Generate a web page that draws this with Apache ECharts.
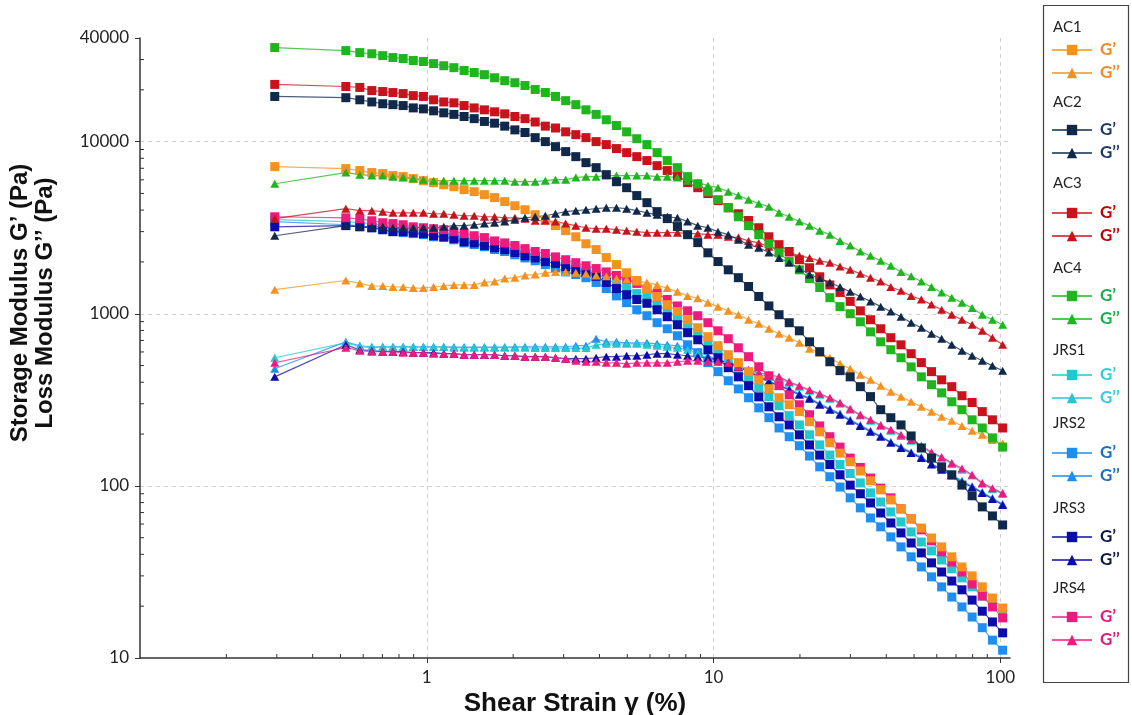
<!DOCTYPE html>
<html>
<head>
<meta charset="utf-8">
<title>Amplitude sweep</title>
<script src="https://cdn.jsdelivr.net/npm/echarts@6/dist/echarts.min.js"></script>
<style>
  html, body { margin: 0; padding: 0; background: #fff; }
  #chart { width: 1132px; height: 715px; }
</style>
</head>
<body>
<div id="chart"></div>
<script>
// shear strain (%) - same for every sample
const strain = [0.295, 0.522, 0.584, 0.643, 0.702, 0.762, 0.827, 0.897, 0.973, 1.056,
  1.146, 1.243, 1.349, 1.463, 1.588, 1.723, 1.869, 2.028, 2.200, 2.387,
  2.590, 2.810, 3.049, 3.308, 3.589, 3.894, 4.225, 4.584, 4.974, 5.397,
  5.855, 6.353, 6.893, 7.479, 8.115, 8.805, 9.552, 10.36, 11.25, 12.20,
  13.24, 14.37, 15.59, 16.91, 18.35, 19.91, 21.60, 23.44, 25.43, 27.59,
  29.94, 32.48, 35.24, 38.24, 41.49, 45.02, 48.84, 53.00, 57.50, 62.38,
  67.68, 73.44, 79.68, 86.45, 93.80, 101.8]

// G' (storage) and G'' (loss), Pa
const ac1Gp = [7160, 6970, 6790, 6610, 6520, 6350, 6260, 6100, 5930, 5780,
  5620, 5470, 5260, 5120, 4920, 4730, 4480, 4240, 4020, 3760,
  3520, 3250, 3040, 2800, 2550, 2360, 2120, 1930, 1730, 1560,
  1390, 1260, 1130, 1030, 923, 829, 736, 652, 578, 520,
  461, 413, 367, 325, 296, 270, 236, 206, 178, 155,
  138, 122, 107, 94.8, 82.9, 73.5, 64.3, 56.9, 49.8, 44.2,
  38.7, 33.8, 30.0, 25.9, 22.3, 19.5]
const ac1Gpp = [1380, 1560, 1500, 1450, 1450, 1430, 1430, 1410, 1410, 1430,
  1450, 1470, 1470, 1470, 1520, 1540, 1600, 1620, 1670, 1690,
  1730, 1750, 1750, 1730, 1710, 1670, 1650, 1600, 1580, 1540,
  1520, 1470, 1410, 1340, 1270, 1230, 1160, 1100, 1040, 987,
  923, 875, 818, 765, 726, 679, 627, 594, 555, 512,
  479, 442, 413, 382, 352, 330, 308, 288, 270, 252,
  239, 223, 209, 198, 185, 176]

const ac2Gp = [18300, 18000, 17500, 17000, 16600, 16400, 16200, 15700, 15500, 15100,
  14700, 14400, 14000, 13600, 13100, 12800, 12300, 11700, 11300, 10550,
  10000, 9350, 8750, 8180, 7550, 7060, 6430, 5850, 5400, 4860,
  4420, 3920, 3570, 3210, 2880, 2590, 2260, 2010, 1800, 1620,
  1440, 1260, 1110, 987, 887, 796, 687, 602, 526, 467,
  430, 377, 330, 277, 249, 226, 195, 166, 145, 129,
  116, 101, 87.6, 75.5, 66.9, 59.3]
const ac2Gpp = [2840, 3250, 3200, 3200, 3200, 3160, 3160, 3160, 3160, 3160,
  3200, 3250, 3250, 3290, 3340, 3380, 3430, 3520, 3610, 3660,
  3710, 3810, 3920, 3970, 4020, 4080, 4130, 4130, 4080, 3970,
  3860, 3760, 3660, 3610, 3430, 3250, 3160, 3000, 2880, 2690,
  2520, 2420, 2270, 2110, 1980, 1830, 1690, 1600, 1520, 1430,
  1340, 1260, 1180, 1100, 1030, 961, 887, 829, 765, 716,
  660, 610, 570, 533, 498, 467]

const ac3Gp = [21500, 20900, 20650, 19800, 19540, 19280, 19020, 18500, 18300, 17500,
  17000, 16800, 16200, 15700, 15300, 14900, 14500, 14000, 13600, 13000,
  12300, 12000, 11400, 10980, 10550, 10000, 9610, 9110, 8630, 8180,
  7760, 7250, 6790, 6350, 5780, 5400, 4990, 4540, 4130, 3810,
  3480, 3160, 2800, 2520, 2300, 2060, 1850, 1640, 1470, 1330,
  1180, 1040, 923, 818, 726, 660, 586, 520, 461, 413,
  377, 334, 305, 270, 242, 217]
const ac3Gpp = [3570, 4080, 3970, 3970, 3920, 3860, 3860, 3860, 3860, 3810,
  3810, 3760, 3710, 3710, 3660, 3660, 3610, 3610, 3570, 3470,
  3470, 3430, 3340, 3250, 3160, 3120, 3120, 3080, 3040, 3000,
  2960, 2960, 2960, 2960, 2920, 2920, 2880, 2880, 2800, 2770,
  2650, 2580, 2450, 2360, 2270, 2170, 2110, 2030, 1980, 1880,
  1800, 1710, 1620, 1540, 1430, 1360, 1270, 1210, 1130, 1055,
  987, 923, 863, 796, 726, 660]

const ac4Gp = [35200, 33800, 32900, 32400, 31600, 30800, 30400, 29600, 29200, 28400,
  27600, 26900, 25900, 25200, 24500, 23500, 22600, 22000, 21200, 20100,
  19300, 18300, 17300, 16400, 15300, 14400, 13400, 12400, 11400, 10400,
  9610, 8630, 7760, 7060, 6260, 5690, 5120, 4600, 4130, 3660,
  3250, 2880, 2550, 2260, 2010, 1800, 1600, 1420, 1240, 1100,
  1000, 898, 785, 687, 618, 555, 491, 430, 387, 347,
  308, 277, 242, 217, 190, 168]
const ac4Gpp = [5690, 6610, 6430, 6350, 6350, 6260, 6180, 6100, 6010, 5930,
  5930, 5930, 5930, 5930, 5930, 5930, 5930, 5850, 5850, 5850,
  5930, 6010, 6010, 6180, 6260, 6260, 6350, 6350, 6350, 6350,
  6350, 6260, 6260, 6180, 5930, 5780, 5550, 5400, 5120, 4860,
  4600, 4360, 4190, 3860, 3660, 3430, 3250, 3040, 2880, 2650,
  2490, 2300, 2170, 2030, 1900, 1750, 1650, 1540, 1430, 1330,
  1240, 1160, 1080, 987, 923, 863]

const jrs1Gp = [3520, 3430, 3380, 3340, 3250, 3200, 3160, 3080, 3040, 3000,
  2920, 2840, 2770, 2690, 2620, 2550, 2450, 2360, 2270, 2170,
  2090, 2010, 1930, 1850, 1780, 1690, 1600, 1490, 1400, 1310,
  1230, 1130, 1040, 948, 863, 776, 697, 618, 548, 479,
  419, 372, 330, 292, 256, 226, 198, 173, 151, 133,
  118, 104, 91.0, 80.6, 70.6, 61.7, 54.0, 47.2, 41.9, 37.1,
  33.0, 29.2, 25.9, 22.9, 20.3, 18.2]
const jrs1Gpp = [555, 678, 643, 635, 640, 640, 640, 640, 640, 640,
  640, 635, 635, 635, 635, 635, 635, 635, 635, 632,
  632, 632, 632, 632, 632, 660, 669, 669, 669, 669,
  660, 652, 643, 635, 618, 586, 555, 526, 505, 492,
  466, 448, 430, 419, 397, 377, 357, 338, 321, 300,
  277, 256, 239, 223, 209, 195, 183, 168, 155, 145,
  134, 124, 115, 103, 95.7, 89.6]

const jrs2Gp = [3430, 3290, 3250, 3160, 3080, 3000, 2960, 2920, 2880, 2800,
  2770, 2690, 2580, 2520, 2450, 2360, 2300, 2200, 2110, 2030,
  1930, 1850, 1750, 1690, 1620, 1520, 1400, 1270, 1160, 1055,
  974, 887, 818, 745, 660, 594, 520, 461, 408, 366,
  325, 284, 249, 217, 193, 171, 149, 129, 113, 98.4,
  85.2, 74.5, 65.1, 57.8, 50.5, 44.2, 38.7, 33.8, 29.6, 25.9,
  22.6, 19.8, 17.3, 15.0, 12.7, 11.1]
const jrs2Gpp = [479, 687, 652, 643, 643, 643, 643, 643, 643, 643,
  643, 640, 640, 640, 640, 640, 640, 643, 643, 643,
  643, 643, 643, 652, 652, 716, 687, 687, 678, 678,
  678, 669, 660, 652, 643, 602, 570, 540, 519, 492,
  466, 436, 408, 382, 367, 343, 325, 300, 281, 263,
  242, 226, 209, 195, 180, 168, 157, 147, 134, 126,
  116, 107, 99.6, 92.0, 85.0, 78.5]

const jrs3Gp = [3200, 3250, 3200, 3160, 3080, 3000, 3000, 2960, 2920, 2840,
  2800, 2730, 2620, 2580, 2490, 2420, 2360, 2270, 2170, 2110,
  2010, 1960, 1880, 1800, 1730, 1650, 1520, 1400, 1290, 1210,
  1150, 1055, 961, 863, 776, 706, 618, 555, 486, 430,
  382, 329, 288, 252, 226, 198, 173, 151, 133, 116,
  101, 90.0, 79.6, 69.6, 60.9, 53.3, 46.6, 40.8, 35.7, 31.6,
  28.0, 24.9, 21.7, 18.7, 16.2, 14.0]
const jrs3Gpp = [430, 660, 618, 610, 602, 602, 602, 594, 594, 594,
  586, 586, 578, 578, 578, 578, 570, 570, 563, 563,
  563, 555, 548, 548, 548, 555, 563, 563, 570, 570,
  578, 586, 586, 578, 570, 563, 555, 540, 519, 492,
  460, 430, 402, 382, 361, 338, 321, 296, 277, 259,
  239, 223, 206, 193, 178, 166, 155, 145, 133, 124,
  115, 105, 98.3, 90.8, 83.9, 77.5]

const jrs4Gp = [3660, 3610, 3560, 3470, 3380, 3340, 3290, 3200, 3160, 3120,
  3080, 3000, 2920, 2840, 2770, 2650, 2580, 2490, 2390, 2300,
  2240, 2140, 2060, 1980, 1900, 1830, 1750, 1670, 1580, 1500,
  1390, 1310, 1210, 1110, 1040, 974, 887, 796, 716, 634,
  563, 492, 436, 382, 338, 296, 259, 223, 193, 168,
  145, 128, 111, 97.0, 85.2, 73.5, 64.3, 55.5, 47.9, 41.4,
  36.1, 31.6, 26.9, 22.9, 19.8, 17.1]
const jrs4Gpp = [519, 635, 610, 602, 602, 602, 594, 594, 594, 586,
  586, 586, 578, 578, 578, 578, 570, 570, 563, 563,
  563, 555, 548, 533, 526, 526, 519, 519, 512, 519,
  519, 519, 519, 526, 533, 533, 526, 526, 519, 492,
  473, 454, 442, 430, 402, 382, 361, 343, 325, 304,
  281, 259, 242, 226, 212, 198, 185, 171, 157, 147,
  136, 126, 116, 104, 97.0, 90.8]

// axis minor ticks
const xMinorTicks = [0.2, 0.3, 0.4, 0.5, 0.6, 0.7, 0.8, 0.9, 2, 3, 4, 5, 6, 7, 8, 9,
  20, 30, 40, 50, 60, 70, 80, 90]
const yMinorTicks = [20, 30, 40, 50, 60, 70, 80, 90, 200, 300, 400, 500, 600, 700, 800, 900,
  2000, 3000, 4000, 5000, 6000, 7000, 8000, 9000, 20000, 30000]

const groups = [
  { name: 'AC1', color: '#F5911E', text: '#F08A24', gp: ac1Gp, gpp: ac1Gpp },
  { name: 'AC2', color: '#10294A', text: '#1F3864', gp: ac2Gp, gpp: ac2Gpp },
  { name: 'AC3', color: '#C8121C', text: '#C00000', gp: ac3Gp, gpp: ac3Gpp },
  { name: 'AC4', color: '#1EB51E', text: '#1AAE4C', gp: ac4Gp, gpp: ac4Gpp },
  { name: 'JRS1', color: '#22C8CE', text: '#33CCDD', gp: jrs1Gp, gpp: jrs1Gpp },
  { name: 'JRS2', color: '#1E8EF0', text: '#1F6DC0', gp: jrs2Gp, gpp: jrs2Gpp },
  { name: 'JRS3', color: '#0C0CAA', text: '#0D1847', gp: jrs3Gp, gpp: jrs3Gpp },
  { name: 'JRS4', color: '#EE1A7E', text: '#E6197A', gp: jrs4Gp, gpp: jrs4Gpp }
]
// drawing order (later on top)
const drawOrder = ['JRS2', 'JRS1', 'JRS3', 'JRS4', 'AC1', 'AC3', 'AC4', 'AC2']

const groupLabelY = [27, 102, 183, 268, 350, 423, 508, 588]
const legendTop = [41, 121, 204, 287, 366, 444, 528, 608]

const numFont = 'Lato'
const titleFont = '"Liberation Sans", Arial'

const chart = echarts.init(document.getElementById('chart'))

const series = []
drawOrder.forEach(n => {
  const g = groups.find(item => item.name === n)
  series.push({
    name: g.name + ' G’',
    type: 'line',
    data: strain.map((s, i) => [s, g.gp[i]]),
    symbol: 'rect',
    symbolSize: 9,
    itemStyle: { color: g.color },
    lineStyle: { color: g.color, width: 1.2, opacity: 0.75 },
    emphasis: { disabled: true }
  })
  series.push({
    name: g.name + ' G’’',
    type: 'line',
    data: strain.map((s, i) => [s, g.gpp[i]]),
    symbol: 'triangle',
    symbolSize: [9, 8],
    itemStyle: { color: g.color },
    lineStyle: { color: g.color, width: 1.2, opacity: 0.75 },
    emphasis: { disabled: true }
  })
})

// minor ticks, drawn through the axes
series.push({
  type: 'custom',
  silent: true,
  clip: false,
  z: 3,
  data: xMinorTicks.map(v => [v, 10]),
  renderItem: (params, api) => {
    const p = api.coord([api.value(0), api.value(1)])
    return {
      type: 'line',
      shape: { x1: p[0], y1: p[1], x2: p[0], y2: p[1] - 4 },
      style: { stroke: '#333', lineWidth: 1 }
    }
  }
})
series.push({
  type: 'custom',
  silent: true,
  clip: false,
  z: 3,
  data: yMinorTicks.map(v => [0.1, v]),
  renderItem: (params, api) => {
    const p = api.coord([api.value(0), api.value(1)])
    return {
      type: 'line',
      shape: { x1: p[0], y1: p[1], x2: p[0] + 4, y2: p[1] },
      style: { stroke: '#333', lineWidth: 1 }
    }
  }
})

const graphics = [
  {
    type: 'rect',
    shape: { x: 1043.5, y: 5.5, width: 85, height: 677 },
    style: { fill: 'none', stroke: '#444', lineWidth: 1.2 }
  },
  {
    type: 'text',
    x: 33,
    y: 303,
    rotation: Math.PI / 2,
    style: {
      text: 'Storage Modulus G’ (Pa)\nLoss Modulus G’’ (Pa)',
      align: 'center',
      verticalAlign: 'middle',
      fontFamily: titleFont,
      fontWeight: 'bold',
      fontSize: 24,
      lineHeight: 25,
      fill: '#111'
    }
  }
]
groups.forEach((g, i) => {
  graphics.push({
    type: 'text',
    x: 1053,
    y: groupLabelY[i],
    style: {
      text: g.name,
      align: 'left',
      verticalAlign: 'middle',
      fontFamily: numFont,
      fontSize: 15,
      fill: '#222'
    }
  })
})

chart.setOption({
  animation: false,
  backgroundColor: '#fff',
  grid: {
    left: 140,
    right: 122,
    top: 38,
    bottom: 57,
    containLabel: false,
    outerBoundsMode: 'none'
  },
  legend: groups.map((g, i) => ({
    orient: 'vertical',
    left: 1051,
    top: legendTop[i],
    padding: 0,
    itemWidth: 40,
    itemHeight: 13,
    itemGap: 5,
    selectedMode: false,
    data: [
      { name: g.name + ' G’', textStyle: { color: g.text } },
      { name: g.name + ' G’’', textStyle: { color: g.text } }
    ],
    formatter: name => name.slice(name.indexOf(' ') + 1),
    textStyle: {
      fontFamily: numFont,
      fontWeight: 'bold',
      fontSize: 17,
      lineHeight: 18,
      padding: [0, 0, 0, 3]
    }
  })),
  xAxis: {
    type: 'log',
    min: 0.1,
    max: 108,
    name: 'Shear Strain γ (%)',
    nameLocation: 'middle',
    nameGap: 30,
    nameTextStyle: { fontFamily: titleFont, fontWeight: 'bold', fontSize: 26, color: '#111' },
    axisLine: { lineStyle: { color: '#333', width: 1.5 } },
    axisTick: { length: 5, lineStyle: { color: '#333' } },
    axisLabel: {
      showMinLabel: false,
      showMaxLabel: false,
      margin: 11,
      fontFamily: numFont,
      fontSize: 17,
      color: '#222',
      formatter: v => String(Math.round(v))
    },
    splitLine: {
      show: true,
      showMinLine: false,
      showMaxLine: false,
      lineStyle: { type: [4, 4], color: '#cfcfcf' }
    }
  },
  yAxis: {
    type: 'log',
    min: 10,
    max: 40000,
    axisLine: { show: true, lineStyle: { color: '#333', width: 1.5 } },
    axisTick: { show: true, length: 5, lineStyle: { color: '#333' } },
    axisLabel: {
      margin: 11,
      fontFamily: numFont,
      fontSize: 17,
      color: '#222',
      formatter: v => String(Math.round(v))
    },
    splitLine: {
      show: true,
      showMinLine: false,
      showMaxLine: false,
      lineStyle: { type: [4, 4], color: '#cfcfcf' }
    }
  },
  graphic: graphics,
  series: series
})
</script>
</body>
</html>
